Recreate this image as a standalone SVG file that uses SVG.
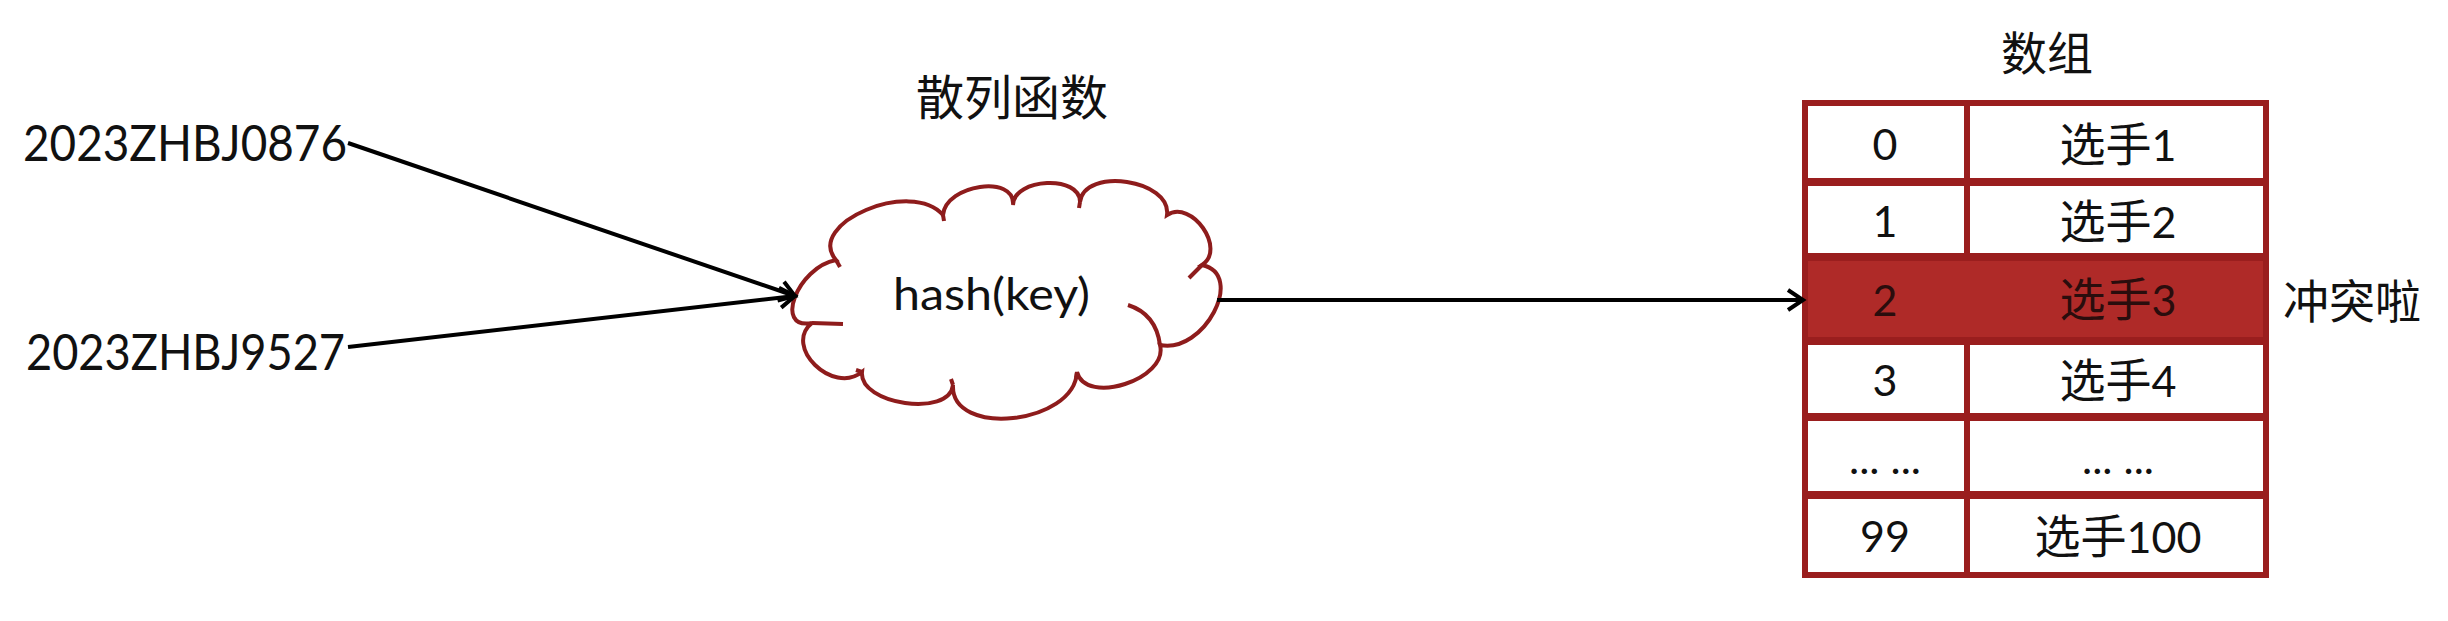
<svg xmlns="http://www.w3.org/2000/svg" width="2448" height="621" viewBox="0 0 2448 621">
<defs>
<style>
.lat{font-family:Lato,"Noto Sans","Noto Sans CJK SC",sans-serif;fill:#111;}
.cjk{font-family:"Noto Sans CJK SC",sans-serif;fill:#111;}
.edge{stroke:#000;stroke-width:4;fill:none;marker-end:url(#arr);}
.cell{stroke:#9A1E1E;fill:none;}
.mid{text-anchor:middle;}
</style>
<marker id="arr" markerUnits="userSpaceOnUse" markerWidth="26" markerHeight="26" refX="21" refY="13" orient="auto">
<path d="M6,3 L21,13 L6,23" fill="none" stroke="#000" stroke-width="4"/>
</marker>
</defs>
<rect width="2448" height="621" fill="#fff"/>

<g id="key1"><text class="lat" x="23" y="161" font-size="50" textLength="324" lengthAdjust="spacingAndGlyphs">2023ZHBJ0876</text></g>
<g id="key2"><text class="lat" x="26" y="370" font-size="50" textLength="319" lengthAdjust="spacingAndGlyphs">2023ZHBJ9527</text></g>

<g id="hash">
<text class="cjk mid" x="1012" y="115" font-size="48">散列函数</text>
<path d="M812,323 C773.3,330.3 797.3,267.3 836,260 C804.7,223.3 911.7,178.3 943,215 C945.7,184.3 1015.7,174.3 1013,205 C1013.7,177.7 1080.7,174.7 1080,202 C1084.7,166.7 1171.7,179.7 1167,215 C1191.7,199 1226.7,249 1202,265 C1246,274.3 1204,354.3 1160,345 C1168.7,379 1085.7,406 1077,372 C1074.3,424.7 950.3,437.7 953,385 C949.7,417.7 858.7,404.7 862,372 C832.7,395.3 782.7,346.3 812,323 Z" fill="#fff" stroke="#8E1C1C" stroke-width="4"/>
<g fill="none" stroke="#8E1C1C" stroke-width="4">
<path d="M812,323 L843,324"/>
<path d="M836,260 L840,267"/>
<path d="M943,215 L944,221"/>
<path d="M1080,202 L1079,208"/>
<path d="M1202,265 L1189,278"/>
<path d="M1128,305 Q1156,314 1160,345"/>
<path d="M1077,372 L1076,378"/>
<path d="M953,385 L951,379"/>
<path d="M862,372 L856,370"/>
</g>
<text class="lat" x="893" y="310" font-size="44" textLength="197" lengthAdjust="spacingAndGlyphs">hash(key)</text>
</g>

<g id="array">
<text class="cjk mid" x="2047" y="70" font-size="46">数组</text>
<rect x="1805" y="257" width="461" height="84" fill="#AF2A28"/>
<rect class="cell" x="1805" y="103" width="461" height="472" stroke-width="6"/>
<g class="cell" stroke-width="8">
<line x1="1805" y1="182" x2="2266" y2="182"/>
<line x1="1805" y1="257" x2="2266" y2="257"/>
<line x1="1805" y1="341" x2="2266" y2="341"/>
<line x1="1805" y1="417" x2="2266" y2="417"/>
<line x1="1805" y1="495" x2="2266" y2="495"/>
</g>
<g class="cell" stroke-width="6">
<line x1="1967" y1="103" x2="1967" y2="257"/>
<line x1="1967" y1="341" x2="1967" y2="575"/>
</g>
<g font-size="43">
<text class="lat mid" x="1885" y="160">0</text>
<text class="lat mid" x="1885" y="237">1</text>
<text class="lat mid" x="1885" y="316" style="fill:#2a0d0d">2</text>
<text class="lat mid" x="1885" y="396">3</text>
<text class="lat mid" x="1885" y="474">... ...</text>
<text class="lat mid" x="1885" y="552">99</text>
<text class="lat mid" x="2118" y="161"><tspan class="cjk" font-size="46">选手</tspan>1</text>
<text class="lat mid" x="2118" y="238"><tspan class="cjk" font-size="46">选手</tspan>2</text>
<text class="lat mid" x="2118" y="316" style="fill:#2a0d0d"><tspan class="cjk" font-size="46" style="fill:#2a0d0d">选手</tspan>3</text>
<text class="lat mid" x="2118" y="397"><tspan class="cjk" font-size="46">选手</tspan>4</text>
<text class="lat mid" x="2118" y="474">... ...</text>
<text class="lat mid" x="2118" y="553"><tspan class="cjk" font-size="46">选手</tspan>100</text>
</g>
<text class="cjk" x="2283" y="318" font-size="46">冲突啦</text>
</g>

<g id="connectors">
<line class="edge" x1="348" y1="143" x2="795" y2="296"/>
<line class="edge" x1="348" y1="347" x2="795" y2="296"/>
<line class="edge" x1="1217" y1="300" x2="1803" y2="300"/>
</g>
</svg>
